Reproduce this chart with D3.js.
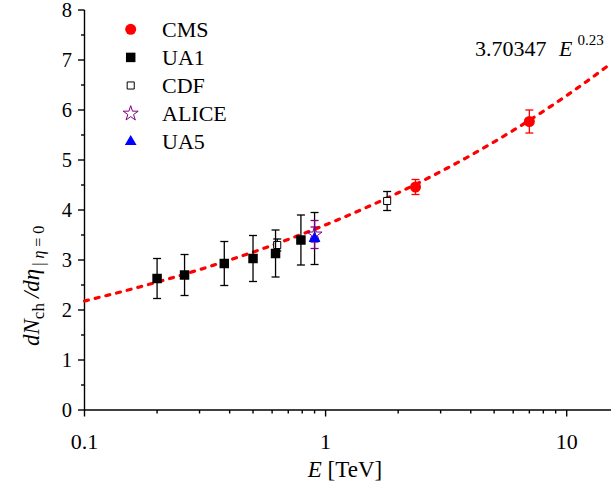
<!DOCTYPE html>
<html><head><meta charset="utf-8">
<script src="https://cdn.jsdelivr.net/npm/d3@7"></script>
<style>
html,body{margin:0;padding:0;background:#fff;}
svg text{font-family:'Liberation Serif','Tinos','Times New Roman','DejaVu Serif',serif;}
</style></head>
<body><svg id="c" width="611" height="488"></svg>
<script>
// ---- data ----
const cmsE = [2.36, 7.0];
const cmsY = [4.46, 5.77];
const cmsErr = [0.15, 0.23];

const ua1E = [0.2, 0.26, 0.38, 0.5, 0.62, 0.79];
const ua1Y = [2.63, 2.70, 2.93, 3.03, 3.13, 3.40];
const ua1Err = [0.40, 0.41, 0.44, 0.46, 0.47, 0.50];

const cdfE = [0.63, 1.8];
const cdfY = [3.30, 4.18];
const cdfErr = [0.12, 0.19];

const aliceE = [0.9];
const aliceY = [3.51];
const aliceErrStat = [0.15];
const aliceErrSys = [0.28];

const ua5E = [0.9];
const ua5Y = [3.43];
const ua5Err = [0.52];

const fitA = 3.70347, fitB = 0.23;
const xDomain = [0.1, 15];
const yDomain = [0, 8];
const xTicks = [0.1, 1, 10];
const xTickLabels = ["0.1", "1", "10"];
const yTicks = [0, 1, 2, 3, 4, 5, 6, 7, 8];

// ---- scales ----
const svg = d3.select("#c");
const x0 = 84.5, decade = 241.1;
const x = d3.scaleLog().domain(xDomain)
  .range([x0, x0 + decade * Math.log10(xDomain[1] / xDomain[0])]);
const y = d3.scaleLinear().domain(yDomain).range([410, 10]);
const W = 611;
function txt(g) { return g.append("text").attr("fill", "#000"); }

// ---- axes ----
const ax = svg.append("g").attr("stroke", "#000").attr("stroke-width", 1.4).attr("fill", "none");
ax.append("line").attr("x1", x0).attr("x2", W).attr("y1", y(0)).attr("y2", y(0));
ax.append("line").attr("x1", x0).attr("x2", x0).attr("y1", y(0)).attr("y2", y(8));

const minorX = [];
for (let d = 0.1; d < 20; d *= 10) for (let k = 2; k <= 9; k++) { const v = d * k; if (v <= xDomain[1]) minorX.push(v); }
minorX.forEach(v => ax.append("line").attr("x1", x(v)).attr("x2", x(v)).attr("y1", y(0)).attr("y2", y(0) + 3.5));
xTicks.forEach((v, i) => {
  ax.append("line").attr("x1", x(v)).attr("x2", x(v)).attr("y1", y(0)).attr("y2", y(0) + 6.5);
  txt(svg).attr("x", x(v)).attr("y", 449).attr("text-anchor", "middle")
    .attr("font-size", 22).text(xTickLabels[i]);
});
yTicks.forEach(v => {
  ax.append("line").attr("x1", x0).attr("x2", x0 - 6.5).attr("y1", y(v)).attr("y2", y(v));
  if (v < 8) ax.append("line").attr("x1", x0).attr("x2", x0 - 3.5).attr("y1", y(v + 0.5)).attr("y2", y(v + 0.5));
  txt(svg).attr("x", 72).attr("y", y(v) + 7).attr("text-anchor", "end")
    .attr("font-size", 20.5).text(v);
});

// axis titles
const xt = txt(svg).attr("x", 345).attr("y", 477).attr("text-anchor", "middle").attr("font-size", 23);
xt.append("tspan").attr("font-style", "italic").text("E");
xt.append("tspan").text(" [TeV]");

const yt = txt(svg).attr("transform", "translate(39,346) rotate(-90)").attr("font-size", 23);
yt.append("tspan").attr("font-style", "italic").text("dN");
yt.append("tspan").attr("font-size", 17).attr("dy", 5).text("ch");
yt.append("tspan").attr("font-style", "italic").attr("dy", -5).attr("dx", 5).text("/d");
yt.append("tspan").attr("font-style", "italic").text("η");
yt.append("tspan").attr("font-size", 16).attr("dy", 5).attr("dx", 3).text("|");
yt.append("tspan").attr("font-size", 16).attr("font-style", "italic").attr("dx", 4).text("η");
yt.append("tspan").attr("font-size", 16).attr("dx", 4).text("= 0");

// ---- fit curve ----
const fitPts = d3.range(0, 201).map(i => {
  const e = xDomain[0] * Math.pow(xDomain[1] / xDomain[0], i / 200);
  return [e, fitA * Math.pow(e, fitB)];
});
svg.append("path").datum(fitPts)
  .attr("d", d3.line().x(d => x(d[0])).y(d => y(d[1])))
  .attr("fill", "none").attr("stroke", "#ff0000").attr("stroke-width", 3.2)
  .attr("stroke-dasharray", "4 7").attr("stroke-linecap", "round");

// ---- error bars ----
function errBars(E, Y, Err, color, cap) {
  const g = svg.append("g").attr("stroke", color).attr("stroke-width", 1.3);
  E.forEach((e, i) => {
    const cx = x(e), t = y(Y[i] + Err[i]), b = y(Y[i] - Err[i]);
    g.append("line").attr("x1", cx).attr("x2", cx).attr("y1", t).attr("y2", b);
    g.append("line").attr("x1", cx - cap).attr("x2", cx + cap).attr("y1", t).attr("y2", t);
    g.append("line").attr("x1", cx - cap).attr("x2", cx + cap).attr("y1", b).attr("y2", b);
  });
}

const sym = {
  circle: d3.symbol().type(d3.symbolCircle).size(95),
  square: d3.symbol().type(d3.symbolSquare).size(90),
  osquare: d3.symbol().type(d3.symbolSquare).size(50),
  star: d3.symbol().type(d3.symbolStar).size(70),
  tri: d3.symbol().type(d3.symbolTriangle).size(60)
};
function points(E, Y, path, fill, stroke, sw) {
  E.forEach((e, i) => {
    svg.append("path").attr("d", path()).attr("transform", `translate(${x(e)},${y(Y[i])})`)
      .attr("fill", fill).attr("stroke", stroke).attr("stroke-width", sw);
  });
}

errBars(cdfE, cdfY, cdfErr, "#000", 4);
points(cdfE, cdfY, sym.osquare, "#fff", "#000", 1);
errBars(ua1E, ua1Y, ua1Err, "#000", 4);
points(ua1E, ua1Y, sym.square, "#000", "none", 0);
errBars(cmsE, cmsY, cmsErr, "#ff0000", 4);
points(cmsE, cmsY, sym.circle, "#ff0000", "none", 0);
errBars(ua5E, ua5Y, ua5Err, "#000", 4);
errBars(aliceE, aliceY, aliceErrSys, "#800080", 4);
errBars(aliceE, aliceY, aliceErrStat, "#800080", 4);
points(aliceE, aliceY, sym.star, "none", "#800080", 1);
points(ua5E, ua5Y, sym.tri, "#0000ff", "none", 0);

// ---- legend ----
const legend = [
  { name: "CMS", p: sym.circle, fill: "#ff0000", stroke: "none", sw: 0 },
  { name: "UA1", p: sym.square, fill: "#000", stroke: "none", sw: 0 },
  { name: "CDF", p: sym.osquare, fill: "#fff", stroke: "#000", sw: 1 },
  { name: "ALICE", p: sym.star, fill: "none", stroke: "#800080", sw: 1 },
  { name: "UA5", p: sym.tri, fill: "#0000ff", stroke: "none", sw: 0 }
];
legend.forEach((l, i) => {
  const cy = 29.3 + i * 28.1;
  svg.append("path").attr("d", l.p()).attr("transform", `translate(130.7,${cy})`)
    .attr("fill", l.fill).attr("stroke", l.stroke).attr("stroke-width", l.sw);
  txt(svg).attr("x", 162).attr("y", cy + 7.5).attr("font-size", 22).text(l.name);
});

// ---- fit annotation ----
txt(svg).attr("x", 475).attr("y", 56).attr("font-size", 22).text(fitA.toFixed(5));
const ft = txt(svg).attr("x", 559).attr("y", 56).attr("font-size", 22);
ft.append("tspan").attr("font-style", "italic").text("E");
ft.append("tspan").attr("font-size", 15).attr("dy", -11).attr("dx", 5).text(fitB.toFixed(2));
</script></body></html>
